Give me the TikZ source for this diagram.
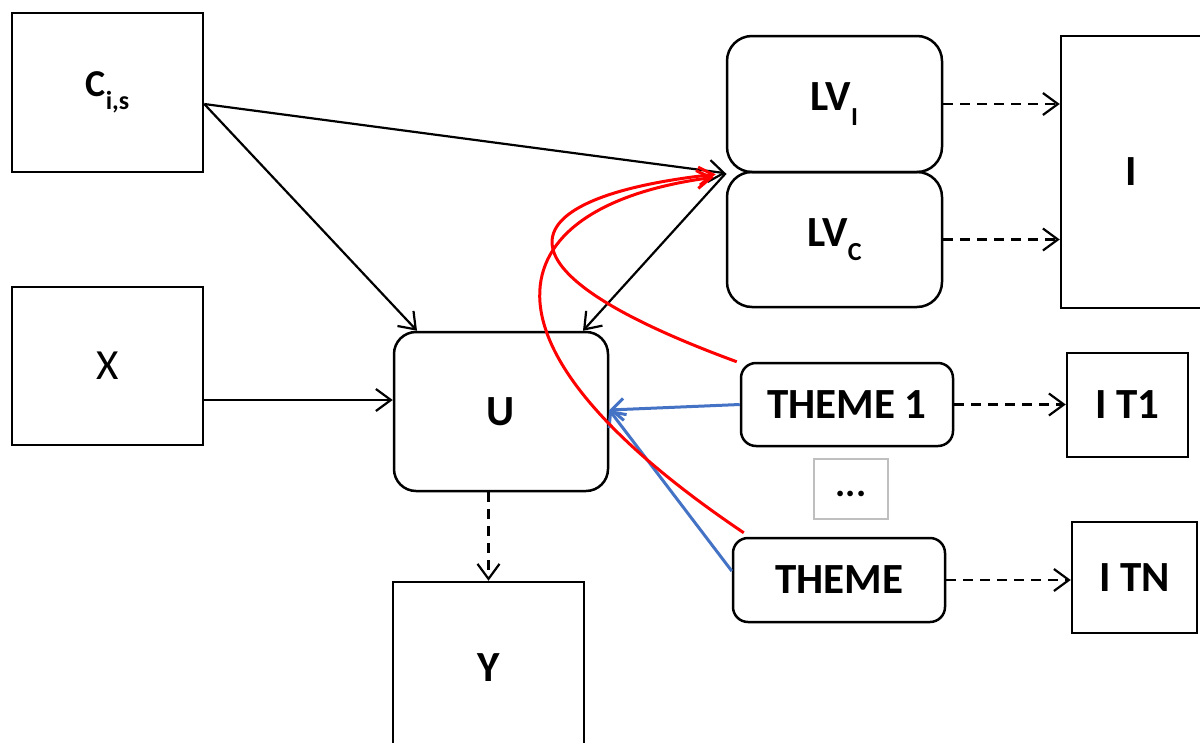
\documentclass[tikz,border=0pt]{standalone}
\usepackage{fontspec}
\setmainfont{Carlito}
\usetikzlibrary{arrows.meta,calc}
\newcommand{\sbs}[1]{\raisebox{-0.34em}{\fontsize{26}{28}\selectfont #1}}
\begin{document}
\begin{tikzpicture}[x=1pt,y=-1pt,
  box/.style={draw, line width=2.5pt, inner sep=0pt, align=center,
    font=\fontsize{43}{48}\selectfont\bfseries},
  rbox/.style={box, rounded corners=#1},
  dotsbox/.style={draw=black!25, line width=1.5pt, inner sep=0pt,
    minimum width=74pt, minimum height=60pt, font=\fontsize{38}{42}\selectfont\bfseries},
  link/.style={line width=2.2pt, -{Straight Barb[length=15pt,width=22pt,line width=2.2pt]}},
  dlink/.style={link, dash pattern=on 10pt off 7pt},
  redlink/.style={draw=red, line width=3pt, -{Straight Barb[length=14pt,width=18pt,line width=3pt]}},
  bluelink/.style={draw={rgb,255:red,68;green,114;blue,196}, line width=3pt,
    -{Straight Barb[length=12pt,width=22pt,line width=3pt]}},
]
\useasboundingbox (0,0) rectangle (1200,742);

% inputs
\node[box, minimum width=191pt, minimum height=159pt] (C) at (107.5,92.5)
  {\fontsize{38}{44}\selectfont C\sbs{i,s}};
\node[box, minimum width=191pt, minimum height=158pt, font=\fontsize{43}{48}\selectfont] (X) at (107.5,366) {X};

% central utility node and outcome
\node[rbox=22pt, minimum width=214pt, minimum height=159pt] (U) at (501,411.5) {U};
\node[box, minimum width=191pt, minimum height=172pt] (Y) at (488.5,668) {Y};

% latent variables and indicator block
\node[rbox=25pt, minimum width=215pt, minimum height=136pt] (LVI) at (834.5,104) {LV\sbs{I}};
\node[rbox=25pt, minimum width=215pt, minimum height=135pt] (LVC) at (834.5,239.5) {LV\sbs{C}};
\node[box, minimum width=140pt, minimum height=272pt] (I) at (1131,172) {I};

% themes
\node[rbox=15pt, minimum width=212pt, minimum height=83pt] (T1) at (847,404.5) {THEME 1};
\node[dotsbox] (dots) at (851,489) {\raisebox{-0.4em}{...}};
\node[rbox=15pt, minimum width=212pt, minimum height=84pt] (TN) at (839,580) {THEME};
\node[box, minimum width=121pt, minimum height=104pt] (IT1) at (1127.5,405) {I T1};
\node[box, minimum width=125pt, minimum height=111pt] (ITN) at (1134.5,577.5) {I TN};

% solid causal links
\draw[link] ($(C.east)+(0,11.5)$) -- (LVI.south west);
\draw[link] ($(C.east)+(0,11.5)$) -- ($(U.north)+(-84,0)$);
\draw[link] ($(X.east)+(0,34)$) -- ($(U.west)+(0,-11.5)$);
\draw[link] (LVI.south west) -- ($(U.north)+(82,0)$);

% dashed measurement links
\draw[dlink] (Y.north |- U.south) -- (Y.north);
\draw[dlink] (LVI.east) -- (LVI.east -| I.west);
\draw[dlink] (LVC.east) -- (LVC.east -| I.west);
\draw[dlink] (T1.east) -- (T1.east -| IT1.west);
\draw[dlink] (TN.east) -- (TN.east -| ITN.west);

% theme effects on utility
\draw[bluelink] (T1.west) -- ($(U.east)+(0,-1.5)$);
\draw[bluelink] ($(TN.west)+(0,-9)$) -- ($(U.east)+(0,-1.5)$);

% theme effects on latent variables
\draw[redlink] ($(T1.north west)+(-3,0)$) .. controls (465,262) and (525,195) .. ($(LVI.south west)+(-10,1)$);
\draw[redlink] ($(TN.north west)+(12,-4)$) .. controls (450,335) and (505,205) .. ($(LVI.south west)+(-12,4)$);
\end{tikzpicture}
\end{document}
